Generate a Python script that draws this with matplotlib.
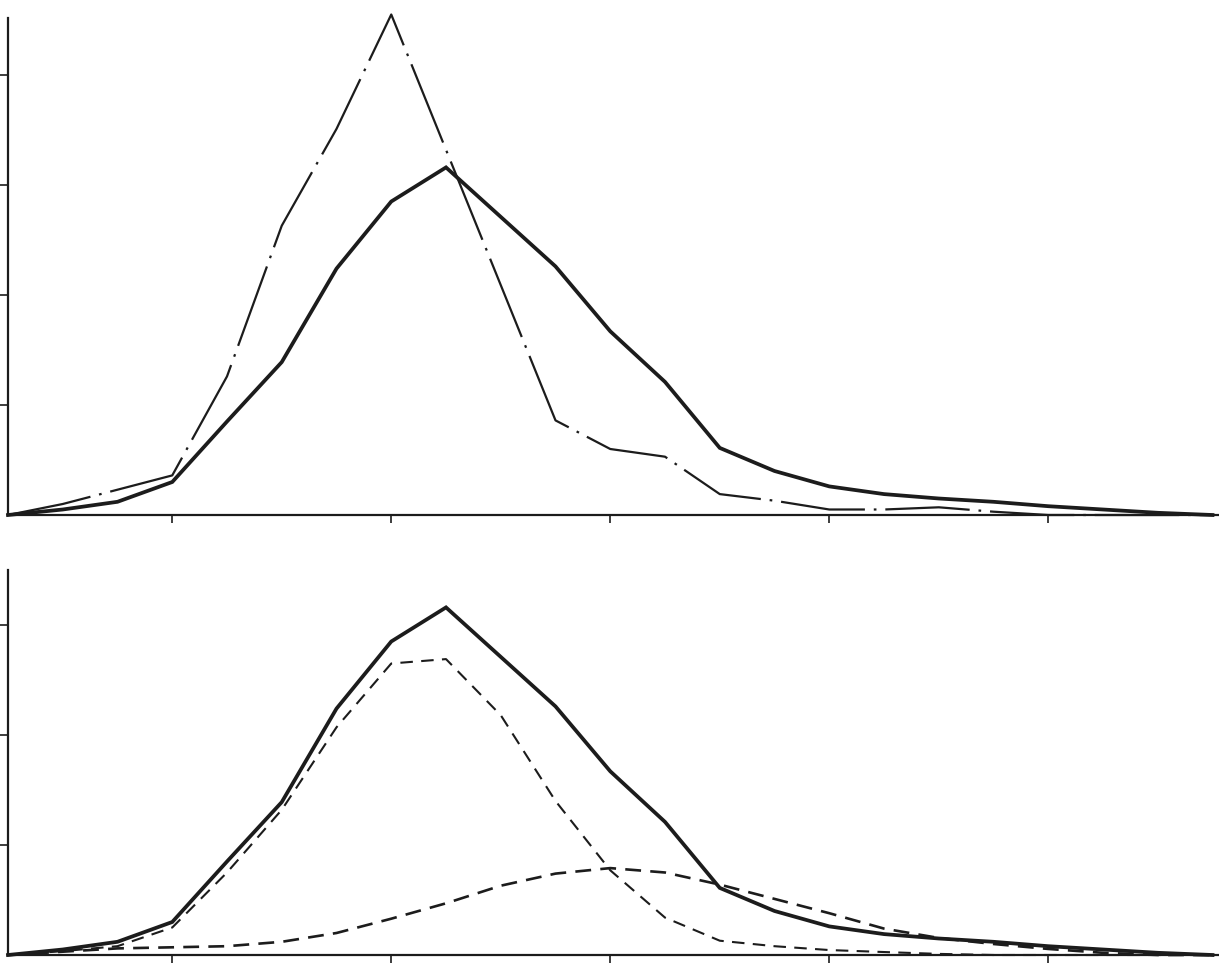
import matplotlib
matplotlib.use("Agg")
import matplotlib.pyplot as plt

# class positions along the x axis (equal steps), ticks every fourth class
bins = [0, 1, 2, 3, 4, 5, 6, 7, 8, 9, 10, 11, 12, 13, 14, 15, 16, 17, 18, 19, 20, 21, 22]
tick_bins = [3, 7, 11, 15, 19]

# observed total distribution (solid, in both panels)
total = [0, 0.05, 0.12, 0.30, 0.85, 1.39, 2.24, 2.85, 3.16, 2.71, 2.26, 1.67, 1.21,
         0.61, 0.40, 0.26, 0.19, 0.15, 0.12, 0.08, 0.05, 0.02, 0]
# second distribution in the top panel (dash-dot)
other = [0, 0.10, 0.23, 0.36, 1.26, 2.63, 3.51, 4.55, 3.32, 2.09, 0.86, 0.60, 0.53,
         0.19, 0.13, 0.05, 0.05, 0.07, 0.03, 0, 0, 0, 0]
# the two components in the bottom panel (dashed)
comp_narrow = [0, 0.035, 0.08, 0.25, 0.75, 1.32, 2.07, 2.65, 2.69, 2.18, 1.40, 0.77, 0.34,
               0.13, 0.08, 0.045, 0.027, 0.01, 0, 0, 0, 0, 0]
comp_broad = [0, 0.03, 0.06, 0.07, 0.08, 0.12, 0.20, 0.33, 0.47, 0.63, 0.74, 0.79, 0.75,
              0.64, 0.51, 0.38, 0.24, 0.155, 0.10, 0.055, 0.02, 0, 0]

ink = "#1c1c1c"
W, H = 1219, 965

fig = plt.figure(figsize=(W / 100, H / 100), dpi=100)
fig.patch.set_facecolor("white")

left = 8 / W
width = (1218 - 8) / W
ax_top = fig.add_axes([left, (H - 515) / H, width, 506 / H])
ax_bot = fig.add_axes([left, (H - 955) / H, width, 385 / H])


def style_axes(ax, ytop, yticks):
    ax.set_xlim(0, 22.1)
    ax.set_ylim(0, ytop)
    for side in ("top", "right"):
        ax.spines[side].set_visible(False)
    for side in ("left", "bottom"):
        ax.spines[side].set_linewidth(1.6)
        ax.spines[side].set_color(ink)
    ax.set_xticks(tick_bins)
    ax.set_yticks(yticks)
    ax.set_xticklabels([])
    ax.set_yticklabels([])
    ax.tick_params(direction="out", length=6, width=1.2, color=ink)
    ax.patch.set_alpha(0)


# top panel
style_axes(ax_top, 4.6, [1, 2, 3, 4])
ax_top.spines["left"].set_bounds(0, 4.52)
ax_top.plot(bins, other, color=ink, lw=1.6, linestyle=(0, (38, 4, 1.2, 4)),
            clip_on=False)
ax_top.plot(bins, total, color=ink, lw=2.7, solid_joinstyle="miter", clip_on=False)

# bottom panel
style_axes(ax_bot, 3.5, [1, 2, 3])
ax_bot.plot(bins, comp_narrow, color=ink, lw=1.5, linestyle=(0, (6, 4)), clip_on=False)
ax_bot.plot(bins, comp_broad, color=ink, lw=1.9, linestyle=(0, (6, 3.5)), clip_on=False)
ax_bot.plot(bins, total, color=ink, lw=2.7, solid_joinstyle="miter", clip_on=False)

fig.savefig("out.png", dpi=100, facecolor="white")
